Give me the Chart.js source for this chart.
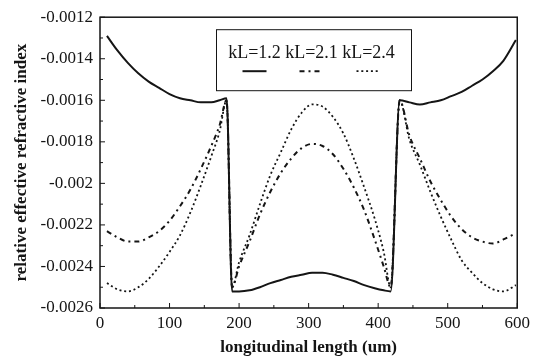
<!DOCTYPE html>
<html>
<head>
<meta charset="utf-8">
<script src="https://cdn.jsdelivr.net/npm/chart.js@4/dist/chart.umd.min.js"></script>
<style>
  html, body { margin: 0; padding: 0; background: #fff; }
  canvas { display: block; }
</style>
</head>
<body>
<canvas id="indexChart" width="535" height="361"></canvas>
<script>
// longitudinal position (um)
const xs = [10, 25, 40, 55, 70, 85, 100, 115, 130, 145, 160, 172, 182,
  190, 200, 215, 230, 245, 260, 275, 290, 305, 320, 335, 350, 365, 380, 395, 408, 418,
  431, 445, 460, 475, 490, 505, 520, 535, 550, 565, 580, 598];

// relative effective refractive index for each kL
const kl12 = [-0.00129, -0.00136, -0.00142, -0.00147, -0.00151, -0.00154, -0.00157, -0.00159, -0.0016, -0.00161, -0.00161, -0.0016, -0.00159,
  -0.00252, -0.00252, -0.002515, -0.0025, -0.00248, -0.002465, -0.00245, -0.00244, -0.00243, -0.00243, -0.00244, -0.002455, -0.00247, -0.00249, -0.002505, -0.002515, -0.00252,
  -0.0016, -0.00161, -0.00162, -0.00161, -0.0016, -0.00158, -0.00156, -0.00153, -0.0015, -0.00146, -0.00141, -0.00131];
const kl21 = [-0.00223, -0.00226, -0.00228, -0.00228, -0.00226, -0.00223, -0.00218, -0.00211, -0.00203, -0.00193, -0.00182, -0.00172, -0.0016,
  -0.0025, -0.0024, -0.00228, -0.00215, -0.00204, -0.00195, -0.00188, -0.00183, -0.00181, -0.00182, -0.00186, -0.00193, -0.00202, -0.00213, -0.00227, -0.0024, -0.0025,
  -0.0016, -0.00177, -0.00188, -0.00199, -0.00208, -0.00216, -0.00222, -0.00226, -0.00228, -0.00229, -0.00227, -0.00224];
const kl24 = [-0.00248, -0.00251, -0.00252, -0.0025, -0.00246, -0.0024, -0.00233, -0.00225, -0.00214, -0.00201, -0.00187, -0.00175, -0.0016,
  -0.0025, -0.00238, -0.00225, -0.0021, -0.00196, -0.00185, -0.00174, -0.00166, -0.00162, -0.00163, -0.00168, -0.00176, -0.00188, -0.00202, -0.00217, -0.00233, -0.0025,
  -0.0016, -0.00179, -0.00191, -0.00204, -0.00216, -0.00227, -0.00237, -0.00243, -0.00248, -0.00251, -0.00252, -0.00249];

const seriesLabels = ["kL=1.2", "kL=2.1", "kL=2.4"];

// axis ticks
const xTicks = [0, 100, 200, 300, 400, 500, 600];
const yTicks = [-0.0026, -0.0024, -0.0022, -0.002, -0.0018, -0.0016, -0.0014, -0.0012];

const ink = "#151515";
const serif = "'Liberation Serif', 'Times New Roman', serif";

const toPoints = ys => xs.map((x, i) => ({ x: x, y: ys[i] }));

function series(label, ys, dash, width) {
  return {
    label: label,
    data: toPoints(ys),
    borderColor: ink,
    borderWidth: width,
    borderDash: dash,
    pointRadius: 0,
    fill: false,
    cubicInterpolationMode: "monotone"
  };
}

// midpoints between labelled ticks
const midpoints = arr => arr.slice(1).map((v, i) => (v + arr[i]) / 2);

// box around the plot + inward tick marks on left and bottom
const frame = {
  id: "frame",
  afterDatasetsDraw(chart) {
    const { ctx, chartArea: a, scales: { x, y } } = chart;
    ctx.save();
    ctx.strokeStyle = ink;
    ctx.lineWidth = 1.5;
    ctx.strokeRect(a.left, a.top, a.right - a.left, a.bottom - a.top);
    ctx.lineWidth = 1;
    ctx.beginPath();
    xTicks.forEach(v => { const px = x.getPixelForValue(v); ctx.moveTo(px, a.bottom); ctx.lineTo(px, a.bottom - 5); });
    midpoints(xTicks).forEach(v => { const px = x.getPixelForValue(v); ctx.moveTo(px, a.bottom); ctx.lineTo(px, a.bottom - 3); });
    yTicks.forEach(v => { const py = y.getPixelForValue(v); ctx.moveTo(a.left, py); ctx.lineTo(a.left + 5, py); });
    midpoints(yTicks).forEach(v => { const py = y.getPixelForValue(v); ctx.moveTo(a.left, py); ctx.lineTo(a.left + 3, py); });
    ctx.stroke();
    ctx.restore();
  }
};

// boxed legend: labels on one row, line samples underneath
const boxLegend = {
  id: "boxLegend",
  afterDraw(chart) {
    const { ctx, chartArea: a } = chart;
    const left = a.left + 116, top = a.top + 12, w = 195, h = 61;
    ctx.save();
    ctx.fillStyle = "#fff";
    ctx.fillRect(left, top, w, h);
    ctx.strokeStyle = ink;
    ctx.lineWidth = 1;
    ctx.strokeRect(left + 0.5, top + 0.5, w, h);
    ctx.font = "18px " + serif;
    ctx.fillStyle = ink;
    ctx.textAlign = "center";
    ctx.textBaseline = "alphabetic";
    const centers = [38.5, 95.5, 152.5];
    chart.data.datasets.forEach((ds, i) => {
      const cx = left + centers[i];
      ctx.fillText(ds.label, cx, top + 29);
      ctx.beginPath();
      ctx.setLineDash(ds.borderDash);
      ctx.lineWidth = ds.borderWidth;
      ctx.moveTo(cx - 12, top + 42);
      ctx.lineTo(cx + 12, top + 42);
      ctx.stroke();
    });
    ctx.restore();
  }
};

const tickFont = { family: serif, size: 17 };
const titleFont = { family: serif, size: 17, weight: "bold" };

new Chart(document.getElementById("indexChart"), {
  type: "line",
  data: {
    datasets: [
      series(seriesLabels[0], kl12, [], 2),
      series(seriesLabels[1], kl21, [5, 4, 2, 4], 2),
      series(seriesLabels[2], kl24, [2, 2.8], 1.8)
    ]
  },
  options: {
    responsive: false,
    animation: false,
    layout: { padding: { top: 12, right: 12, bottom: 0, left: 0 } },
    plugins: {
      legend: { display: false },
      tooltip: { enabled: false }
    },
    scales: {
      x: {
        type: "linear",
        min: 0,
        max: 600,
        afterBuildTicks: s => { s.ticks = xTicks.map(v => ({ value: v })); },
        afterFit: s => { s.height = 53; },
        grid: { display: false, drawTicks: false },
        border: { display: false },
        ticks: { color: ink, font: tickFont, padding: 5, maxRotation: 0 },
        title: { display: true, text: "longitudinal length (um)", color: ink, font: titleFont, padding: { top: 0, bottom: 3 } }
      },
      y: {
        type: "linear",
        min: -0.0026,
        max: -0.0012,
        afterBuildTicks: s => { s.ticks = yTicks.map(v => ({ value: v })); },
        afterFit: s => { s.width = 100; },
        grid: { display: false, drawTicks: false },
        border: { display: false },
        ticks: { color: ink, font: tickFont, padding: 7, callback: v => String(v) },
        title: { display: true, text: "relative effective refractive index", color: ink, font: titleFont, padding: { top: 11, bottom: 0 } }
      }
    }
  },
  plugins: [frame, boxLegend]
});
</script>
</body>
</html>
